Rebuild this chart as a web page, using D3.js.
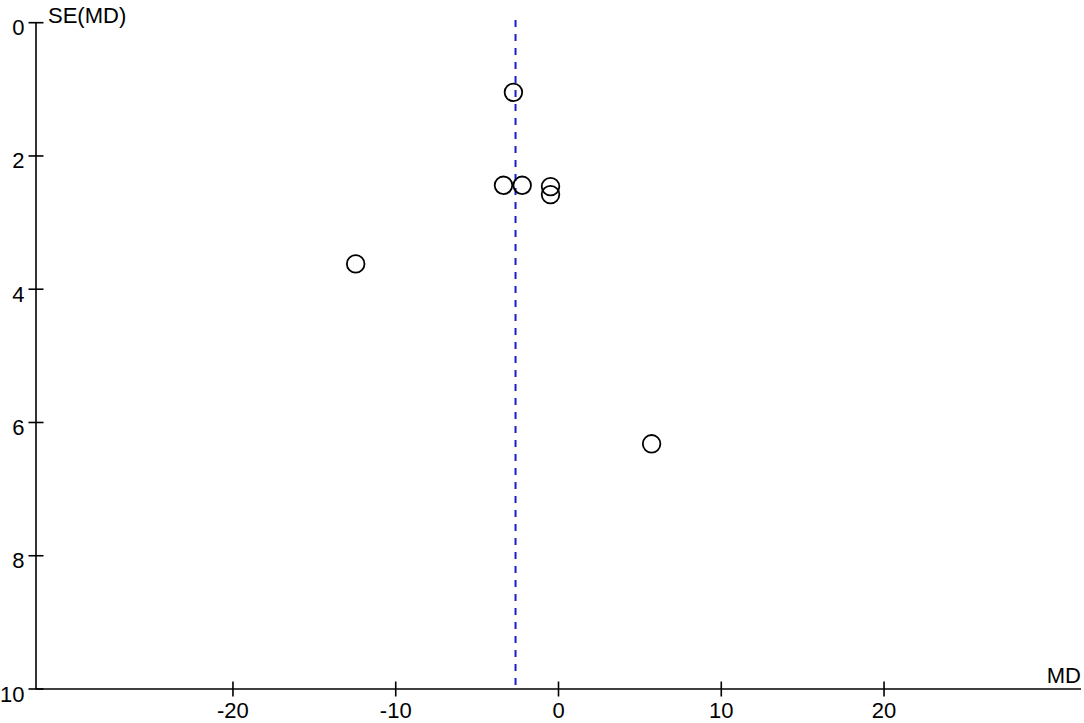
<!DOCTYPE html>
<html>
<head>
<meta charset="utf-8">
<script src="https://cdn.jsdelivr.net/npm/d3@7"></script>
<style>
  html, body { margin: 0; padding: 0; background: #fff; }
  svg { display: block; }
  text { font-family: "Liberation Sans", Arial, sans-serif; font-size: 22px; fill: #000; }
</style>
</head>
<body>
<svg id="chart" width="1084" height="723"></svg>
<script>
// Study estimates: mean difference (MD) and its standard error SE(MD)
const studyMD = [-2.77, -3.38, -2.23, -0.49, -0.49, -12.46, 5.72];
const studySE = [1.045, 2.44, 2.44, 2.46, 2.58, 3.62, 6.32];
const pooledMD = -2.64;
const xTicks = [-20, -10, 0, 10, 20];
const yTicks = [0, 2, 4, 6, 8, 10];
const xLabel = "MD";
const yLabel = "SE(MD)";

(function () {
const svg = d3.select("#chart");
const pL = 36, pR = 1081, pT = 22.7, pB = 689;

const x = d3.scaleLinear().domain([-32.1, 32.1]).range([pL, pR]);
const y = d3.scaleLinear().domain([0, 10]).range([pT, pB]);

// Pooled estimate dashed line
svg.append("line")
  .attr("x1", x(pooledMD)).attr("x2", x(pooledMD))
  .attr("y1", 20).attr("y2", pB)
  .attr("stroke", "#1c1cc8").attr("stroke-width", 2)
  .attr("stroke-dasharray", "7,7");

// X axis
const xAxis = svg.append("g");
xAxis.append("line")
  .attr("x1", pL).attr("x2", pR).attr("y1", pB).attr("y2", pB)
  .attr("stroke", "#000").attr("stroke-width", 1.6);
xAxis.selectAll("line.tick").data(xTicks).enter().append("line")
  .attr("class", "tick")
  .attr("x1", d => x(d)).attr("x2", d => x(d))
  .attr("y1", pB - 7.5).attr("y2", pB + 7.5)
  .attr("stroke", "#000").attr("stroke-width", 1.6);
xAxis.selectAll("text.tl").data(xTicks).enter().append("text")
  .attr("class", "tl")
  .attr("x", d => x(d)).attr("y", 718)
  .attr("text-anchor", "middle")
  .text(d => d);
svg.append("text")
  .attr("x", pR).attr("y", 683)
  .attr("text-anchor", "end")
  .text(xLabel);

// Y axis
const yAxis = svg.append("g");
yAxis.append("line")
  .attr("x1", pL).attr("x2", pL).attr("y1", pT).attr("y2", pB)
  .attr("stroke", "#000").attr("stroke-width", 1.6);
yAxis.selectAll("line.tick").data(yTicks).enter().append("line")
  .attr("class", "tick")
  .attr("x1", pL - 7.5).attr("x2", pL + 7.5)
  .attr("y1", d => y(d)).attr("y2", d => y(d))
  .attr("stroke", "#000").attr("stroke-width", 1.6);
yAxis.selectAll("text.tl").data(yTicks).enter().append("text")
  .attr("class", "tl")
  .attr("x", 24.5).attr("y", d => y(d) + 12.5)
  .attr("text-anchor", "end")
  .text(d => d);
svg.append("text")
  .attr("x", 48).attr("y", 23)
  .text(yLabel);

// Study points
svg.selectAll("circle.pt").data(studyMD).enter().append("circle")
  .attr("class", "pt")
  .attr("cx", d => x(d))
  .attr("cy", (d, i) => y(studySE[i]))
  .attr("r", 8.8)
  .attr("fill", "none")
  .attr("stroke", "#000")
  .attr("stroke-width", 1.8);
})();
</script>
</body>
</html>
